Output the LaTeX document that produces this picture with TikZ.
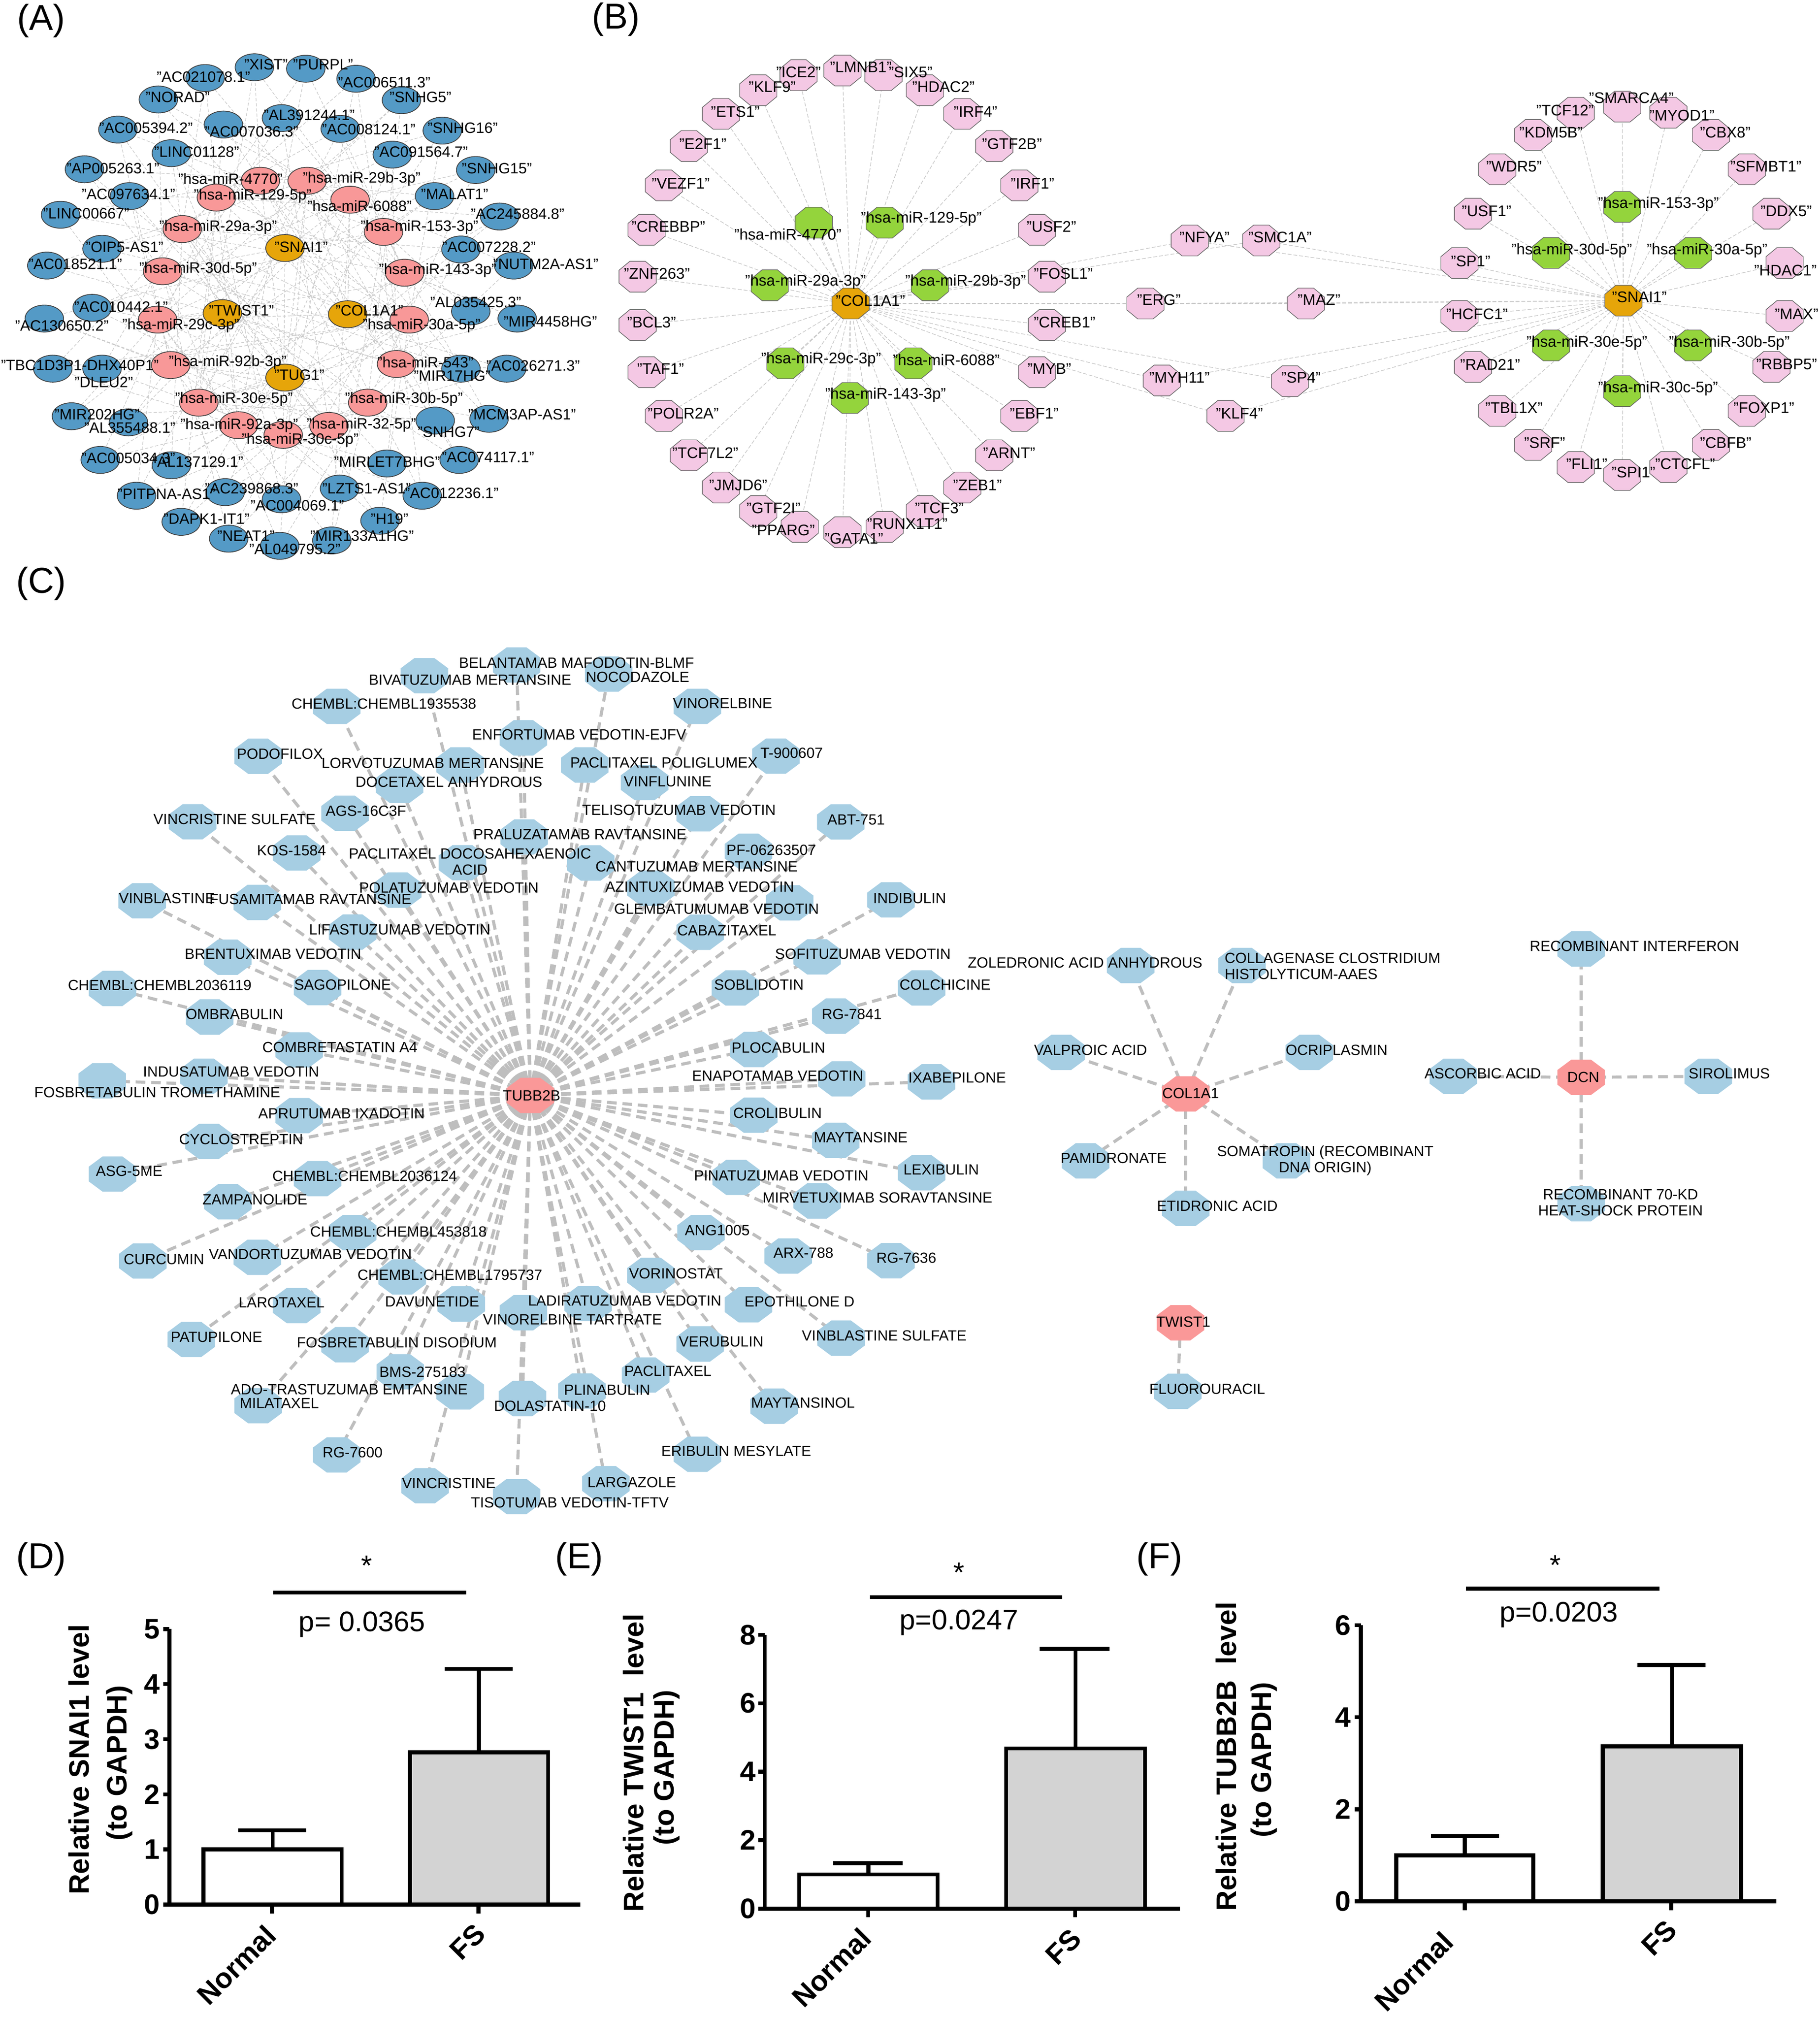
\documentclass[tikz,border=0pt]{standalone}
\usepackage{fontspec}
\setmainfont{Liberation Sans}
\usetikzlibrary{shapes.geometric,calc}
\pgfdeclarelayer{back}
\pgfdeclarelayer{bg}
\pgfdeclarelayer{mid}
\pgfsetlayers{back,bg,mid,main}
\definecolor{aBlue}{RGB}{84,154,198}
\definecolor{aPink}{RGB}{248,152,152}
\definecolor{aOrange}{RGB}{230,165,10}
\definecolor{bPink}{RGB}{244,200,228}
\definecolor{bGreen}{RGB}{148,212,60}
\definecolor{cBlue}{RGB}{166,206,227}
\definecolor{cPink}{RGB}{250,152,152}
\definecolor{edgeGrayC}{RGB}{190,190,190}
\definecolor{edgeGrayA}{RGB}{200,200,200}
\definecolor{barGray}{RGB}{211,211,211}
\newcommand\fsA{\fontsize{11.7}{13}\selectfont}
\newcommand\fsB{\fontsize{12}{14}\selectfont}
\newcommand\fsC{\fontsize{11.5}{12.5}\selectfont}
\newcommand\fsP{\fontsize{28}{30}\selectfont}
\newcommand\fsG{\fontsize{22}{24}\selectfont}
\newcommand\octdraw[2]{%
  \begin{pgfonlayer}{mid}
  \path[#2] ($(#1.east)!.414!(#1.north east)$) -- ($(#1.north)!.414!(#1.north east)$) -- ($(#1.north)!.414!(#1.north west)$) -- ($(#1.west)!.414!(#1.north west)$) -- ($(#1.west)!.414!(#1.south west)$) -- ($(#1.south)!.414!(#1.south west)$) -- ($(#1.south)!.414!(#1.south east)$) -- ($(#1.east)!.414!(#1.south east)$) -- cycle;
  \end{pgfonlayer}}
\newcommand\nodeE[5]{%
  \begin{pgfonlayer}{mid}\node[#2] (#1) at (#3) {};\end{pgfonlayer}%
  \node[lab] (#1l) at (#4) {#5};}
\newcommand\nodeO[5]{%
  \node[octbox] (#1) at (#3) {};%
  \octdraw{#1}{#2}%
  \node[lab] (#1l) at (#4) {#5};}
\tikzset{
  ellA/.style={ellipse, draw=black!75, line width=0.6pt, minimum width=30pt, minimum height=21pt, inner sep=0pt, outer sep=0pt},
  eBlue/.style={ellA, fill=aBlue},
  ePink/.style={ellA, fill=aPink},
  eOr/.style={ellA, fill=aOrange},
  octB/.style={rectangle, minimum width=29pt, minimum height=24pt, inner sep=0pt, outer sep=0pt},
  octC/.style={rectangle, minimum width=37pt, minimum height=27.5pt, inner sep=0pt, outer sep=0pt},
  oPink/.style={fill=bPink, draw=black!60, line width=0.5pt},
  oGreen/.style={fill=bGreen, draw=black!60, line width=0.5pt},
  oOr/.style={fill=aOrange, draw=black!60, line width=0.5pt},
  cB/.style={fill=cBlue},
  cP/.style={fill=cPink},
  edgeA/.style={draw=edgeGrayA, line width=0.45pt, dash pattern=on 2.5pt off 1.5pt},
  edgeB/.style={draw=edgeGrayA, line width=0.5pt, dash pattern=on 3pt off 1.5pt},
  edgeC/.style={draw=edgeGrayC, line width=2.4pt, dash pattern=on 7.5pt off 4.5pt},
  ax/.style={line width=3pt},
  barst/.style={line width=3pt, line join=miter},
  glab/.style={font=\fsG\bfseries, inner sep=0pt},
  plab/.style={font=\fsG, inner sep=0pt},
  plet/.style={font=\fsP, inner sep=0pt}
}
\begin{document}
\begin{tikzpicture}[x=1pt,y=-1pt]
\useasboundingbox (0,0) rectangle (1417,1570.6);
\begin{pgfonlayer}{back}
\fill[white] (0,0) rectangle (1417,1570.6);
\end{pgfonlayer}

% panel letters
\node[plet] (LA) at (32,16.2) {(A)};
\node[plet] (LB) at (479.6,15.3) {(B)};
\node[plet] (LC) at (32,454.5) {(C)};
\node[plet] (LD) at (32,1214) {(D)};
\node[plet] (LE) at (451,1214) {(E)};
\node[plet] (LF) at (903,1214) {(F)};

% ================= PANEL A =================
\begin{scope}[x=0.2740pt,y=-0.2787pt]
\tikzset{lab/.style={font=\fsA, inner sep=0pt}}
\nodeE{a1}{eBlue}{723,188}{756,180}{"XIST"}
\nodeE{a2}{eBlue}{869,192}{918,180}{"PURPL"}
\nodeE{a3}{eBlue}{583,218}{578,215}{"AC021078.1"}
\nodeE{a4}{eBlue}{1012,220}{1092,230}{"AC006511.3"}
\nodeE{a5}{eBlue}{450,278}{505,272}{"NORAD"}
\nodeE{a6}{eBlue}{1141,280}{1195,272}{"SNHG5"}
\nodeE{a7}{eBlue}{800,330}{879,322}{"AL391244.1"}
\nodeE{a8}{eBlue}{335,362}{415,358}{"AC005394.2"}
\nodeE{a9}{eBlue}{635,348}{715,368}{"AC007036.3"}
\nodeE{a10}{eBlue}{967,360}{1048,362}{"AC008124.1"}
\nodeE{a11}{eBlue}{1257,365}{1315,358}{"SNHG16"}
\nodeE{a12}{eBlue}{487,428}{559,424}{"LINC01128"}
\nodeE{a13}{eBlue}{1115,432}{1197,424}{"AC091564.7"}
\nodeE{a14}{eBlue}{240,473}{321,470}{"AP005263.1"}
\nodeE{a15}{eBlue}{1352,475}{1412,470}{"SNHG15"}
\nodeE{a16}{eBlue}{368,548}{365,543}{"AC097634.1"}
\nodeE{a17}{eBlue}{1235,548}{1292,543}{"MALAT1"}
\nodeE{a18}{eBlue}{172,600}{245,597}{"LINC00667"}
\nodeE{a19}{eBlue}{1420,605}{1471,598}{"AC245884.8"}
\nodeE{a20}{eBlue}{290,695}{354,690}{"OIP5-AS1"}
\nodeE{a21}{eBlue}{1310,697}{1390,690}{"AC007228.2"}
\nodeE{a22}{eBlue}{133,742}{214,738}{"AC018521.1"}
\nodeE{a23}{eBlue}{1460,742}{1551,738}{"NUTM2A-AS1"}
\nodeE{a24}{eBlue}{262,860}{344,857}{"AC010442.1"}
\nodeE{a25}{eBlue}{126,890}{176,910}{"AC130650.2"}
\nodeE{a26}{eBlue}{1338,870}{1352,845}{"AL035425.3"}
\nodeE{a27}{eBlue}{1470,890}{1564,898}{"MIR4458HG"}
\nodeE{a28}{eBlue}{150,1030}{227,1020}{"TBC1D3P1-DHX40P1"}
\nodeE{a29}{eBlue}{290,1030}{295,1068}{"DLEU2"}
\nodeE{a30}{eBlue}{1440,1030}{1515,1022}{"AC026271.3"}
\nodeE{a31}{eBlue}{1310,1030}{1285,1050}{"MIR17HG"}
\nodeE{a32}{eBlue}{203,1163}{276,1158}{"MIR202HG"}
\nodeE{a33}{eBlue}{365,1180}{369,1195}{"AL355488.1"}
\nodeE{a34}{eBlue}{1390,1170}{1484,1158}{"MCM3AP-AS1"}
\nodeE{a35}{eBlue}{1237,1175}{1275,1207}{"SNHG7"}
\nodeE{a36}{eBlue}{285,1285}{365,1280}{"AC005034.3"}
\nodeE{a37}{eBlue}{487,1300}{562,1290}{"AL137129.1"}
\nodeE{a38}{eBlue}{1100,1295}{1100,1290}{"MIRLET7BHG"}
\nodeE{a39}{eBlue}{1305,1285}{1387,1278}{"AC074117.1"}
\nodeE{a40}{eBlue}{388,1385}{473,1380}{"PITPNA-AS1"}
\nodeE{a41}{eBlue}{640,1375}{715,1365}{"AC239868.3"}
\nodeE{a42}{eBlue}{965,1365}{1042,1365}{"LZTS1-AS1"}
\nodeE{a43}{eBlue}{1200,1385}{1284,1378}{"AC012236.1"}
\nodeE{a44}{eBlue}{800,1395}{845,1413}{"AC004069.1"}
\nodeE{a45}{eBlue}{515,1458}{587,1450}{"DAPK1-IT1"}
\nodeE{a46}{eBlue}{1080,1455}{1107,1450}{"H19"}
\nodeE{a47}{eBlue}{650,1505}{699,1497}{"NEAT1"}
\nodeE{a48}{eBlue}{795,1525}{838,1535}{"AL049795.2"}
\nodeE{a49}{eBlue}{943,1510}{1029,1497}{"MIR133A1HG"}
\nodeE{m1}{ePink}{740,505}{655,500}{"hsa-miR-4770"}
\nodeE{m2}{ePink}{873,505}{1028,500}{"hsa-miR-29b-3p"}
\nodeE{m3}{ePink}{615,552}{718,548}{"hsa-miR-129-5p"}
\nodeE{m4}{ePink}{995,558}{1022,575}{"hsa-miR-6088"}
\nodeE{m5}{ePink}{518,640}{620,635}{"hsa-miR-29a-3p"}
\nodeE{m6}{ePink}{1090,648}{1192,635}{"hsa-miR-153-3p"}
\nodeE{m7}{ePink}{462,758}{563,752}{"hsa-miR-30d-5p"}
\nodeE{m8}{ePink}{1150,762}{1244,755}{"hsa-miR-143-3p"}
\nodeE{m9}{ePink}{448,893}{514,910}{"hsa-miR-29c-3p"}
\nodeE{m10}{ePink}{1163,893}{1198,910}{"hsa-miR-30a-5p"}
\nodeE{m11}{ePink}{485,1020}{647,1012}{"hsa-miR-92b-3p"}
\nodeE{m12}{ePink}{1127,1017}{1209,1012}{"hsa-miR-543"}
\nodeE{m13}{ePink}{565,1125}{665,1115}{"hsa-miR-30e-5p"}
\nodeE{m14}{ePink}{1045,1125}{1148,1115}{"hsa-miR-30b-5p"}
\nodeE{m15}{ePink}{678,1188}{680,1188}{"hsa-miR-92a-3p"}
\nodeE{m16}{ePink}{935,1190}{1027,1187}{"hsa-miR-32-5p"}
\nodeE{m17}{ePink}{805,1215}{853,1230}{"hsa-miR-30c-5p"}
\nodeE{g1}{eOr}{810,693}{856,690}{"SNAI1"}
\nodeE{g2}{eOr}{632,875}{686,868}{"TWIST1"}
\nodeE{g3}{eOr}{988,878}{1050,868}{"COL1A1"}
\nodeE{g4}{eOr}{810,1055}{851,1048}{"TUG1"}
\end{scope}

% ================= PANEL B (left) =================
\begin{scope}[shift={(447.6,0)},x=0.3197pt,y=-0.2787pt]
\tikzset{lab/.style={font=\fsB, inner sep=0pt}, octbox/.style={octB}}
\nodeO{bICE2}{oPink}{545,210}{545,202}{"ICE2"}
\nodeO{bLMNB1}{oPink}{652,197}{697,188}{"LMNB1"}
\nodeO{bSIX5}{oPink}{752,210}{818,202}{"SIX5"}
\nodeO{bKLF9}{oPink}{447,252}{481,243}{"KLF9"}
\nodeO{bHDAC2}{oPink}{853,252}{898,243}{"HDAC2"}
\nodeO{bETS1}{oPink}{356,318}{391,312}{"ETS1"}
\nodeO{bIRF4}{oPink}{944,318}{976,312}{"IRF4"}
\nodeO{bE2F1}{oPink}{278,408}{312,402}{"E2F1"}
\nodeO{bGTF2B}{oPink}{1022,408}{1065,402}{"GTF2B"}
\nodeO{bVEZF1}{oPink}{217,518}{258,512}{"VEZF1"}
\nodeO{bIRF1}{oPink}{1083,518}{1115,512}{"IRF1"}
\nodeO{bCREBBP}{oPink}{175,642}{228,633}{"CREBBP"}
\nodeO{bUSF2}{oPink}{1126,642}{1161,633}{"USF2"}
\nodeO{bZNF263}{oPink}{153,773}{200,765}{"ZNF263"}
\nodeO{bFOSL1}{oPink}{1150,773}{1190,765}{"FOSL1"}
\nodeO{bBCL3}{oPink}{153,908}{187,900}{"BCL3"}
\nodeO{bCREB1}{oPink}{1150,908}{1193,900}{"CREB1"}
\nodeO{bTAF1}{oPink}{175,1040}{209,1030}{"TAF1"}
\nodeO{bMYB}{oPink}{1126,1040}{1156,1030}{"MYB"}
\nodeO{bPOLR2A}{oPink}{217,1162}{264,1155}{"POLR2A"}
\nodeO{bEBF1}{oPink}{1083,1162}{1119,1155}{"EBF1"}
\nodeO{bTCF7L2}{oPink}{278,1272}{318,1265}{"TCF7L2"}
\nodeO{bARNT}{oPink}{1022,1272}{1058,1265}{"ARNT"}
\nodeO{bJMJD6}{oPink}{356,1362}{398,1355}{"JMJD6"}
\nodeO{bZEB1}{oPink}{944,1362}{981,1355}{"ZEB1"}
\nodeO{bGTF2I}{oPink}{447,1428}{484,1420}{"GTF2I"}
\nodeO{bTCF3}{oPink}{853,1428}{888,1420}{"TCF3"}
\nodeO{bPPARG}{oPink}{548,1472}{508,1482}{"PPARG"}
\nodeO{bRUNX1T1}{oPink}{755,1472}{810,1463}{"RUNX1T1"}
\nodeO{bGATA1}{oPink}{652,1487}{680,1505}{"GATA1"}
\nodeO{bm4770}{oGreen}{582,622}{519,655}{"hsa-miR-4770"}
\nodeO{bm129}{oGreen}{755,622}{844,612}{"hsa-miR-129-5p"}
\nodeO{bm29a}{oGreen}{475,797}{562,788}{"hsa-miR-29a-3p"}
\nodeO{bm29b}{oGreen}{865,797}{952,788}{"hsa-miR-29b-3p"}
\nodeO{bm29c}{oGreen}{513,1015}{600,1005}{"hsa-miR-29c-3p"}
\nodeO{bm6088}{oGreen}{825,1015}{905,1005}{"hsa-miR-6088"}
\nodeO{bm143}{oGreen}{670,1112}{757,1103}{"hsa-miR-143-3p"}
\nodeO{bCOL}{oOr}{672,848}{720,840}{"COL1A1"}
\nodeO{bNFYA}{oPink}{1498,672}{1534,663}{"NFYA"}
\nodeO{bERG}{oPink}{1390,848}{1423,838}{"ERG"}
\nodeO{bMYH11}{oPink}{1430,1063}{1473,1055}{"MYH11"}
\end{scope}

% ================= PANEL B (right) =================
\begin{scope}[shift={(931.1,0)},x=0.3099pt,y=-0.2787pt]
\tikzset{lab/.style={font=\fsB, inner sep=0pt}, octbox/.style={octB}}
\nodeO{bSMC1A}{oPink}{165,672}{212,663}{"SMC1A"}
\nodeO{bMAZ}{oPink}{277,848}{310,838}{"MAZ"}
\nodeO{bSP4}{oPink}{237,1065}{265,1055}{"SP4"}
\nodeO{bKLF4}{oPink}{75,1162}{110,1155}{"KLF4"}
\nodeO{bSMARCA4}{oPink}{1072,298}{1095,273}{"SMARCA4"}
\nodeO{bTCF12}{oPink}{955,315}{928,308}{"TCF12"}
\nodeO{bMYOD1}{oPink}{1188,315}{1222,322}{"MYOD1"}
\nodeO{bKDM5B}{oPink}{848,377}{893,370}{"KDM5B"}
\nodeO{bCBX8}{oPink}{1295,377}{1331,370}{"CBX8"}
\nodeO{bWDR5}{oPink}{758,473}{800,465}{"WDR5"}
\nodeO{bSFMBT1}{oPink}{1385,473}{1433,465}{"SFMBT1"}
\nodeO{bUSF1}{oPink}{697,597}{731,590}{"USF1"}
\nodeO{bDDX5}{oPink}{1447,597}{1484,590}{"DDX5"}
\nodeO{bSP1}{oPink}{663,735}{691,730}{"SP1"}
\nodeO{bHDAC1}{oPink}{1480,735}{1482,755}{"HDAC1"}
\nodeO{bHCFC1}{oPink}{663,883}{707,877}{"HCFC1"}
\nodeO{bMAX}{oPink}{1480,883}{1510,877}{"MAX"}
\nodeO{bRAD21}{oPink}{697,1025}{740,1018}{"RAD21"}
\nodeO{bRBBP5}{oPink}{1447,1025}{1485,1018}{"RBBP5"}
\nodeO{bTBL1X}{oPink}{758,1148}{800,1140}{"TBL1X"}
\nodeO{bFOXP1}{oPink}{1385,1148}{1428,1140}{"FOXP1"}
\nodeO{bSRF}{oPink}{848,1243}{877,1237}{"SRF"}
\nodeO{bCBFB}{oPink}{1295,1243}{1332,1237}{"CBFB"}
\nodeO{bFLI1}{oPink}{955,1305}{983,1297}{"FLI1"}
\nodeO{bSPI1}{oPink}{1072,1327}{1100,1320}{"SPI1"}
\nodeO{bCTCFL}{oPink}{1188,1305}{1230,1297}{"CTCFL"}
\nodeO{bm153}{oGreen}{1072,578}{1163,570}{"hsa-miR-153-3p"}
\nodeO{bm30d}{oGreen}{893,707}{945,700}{"hsa-miR-30d-5p"}
\nodeO{bm30a}{oGreen}{1250,707}{1285,700}{"hsa-miR-30a-5p"}
\nodeO{bm30e}{oGreen}{893,965}{983,958}{"hsa-miR-30e-5p"}
\nodeO{bm30b}{oGreen}{1250,965}{1341,958}{"hsa-miR-30b-5p"}
\nodeO{bm30c}{oGreen}{1072,1093}{1162,1085}{"hsa-miR-30c-5p"}
\nodeO{bSNAI}{oOr}{1075,840}{1115,830}{"SNAI1"}
\end{scope}

% ================= PANEL C =================
\begin{scope}
\tikzset{lab/.style={font=\fsC, inner sep=0pt, align=center}, octbox/.style={octC}}
\nodeO{cTUBB}{cP}{413,853}{414,853}{TUBB2B}
\nodeO{c1}{cB}{402.3,517.8}{449,516}{BELANTAMAB MAFODOTIN-BLMF}
\nodeO{c2}{cB}{330.5,526.1}{366,529.3}{BIVATUZUMAB MERTANSINE}
\nodeO{c3}{cB}{474,524.9}{496.5,527.2}{NOCODAZOLE}
\nodeO{c4}{cB}{262.2,550}{299,547.9}{CHEMBL:CHEMBL1935538}
\nodeO{c5}{cB}{543.1,550}{562.7,547.7}{VINORELBINE}
\nodeO{c6}{cB}{407.6,574.6}{451,572}{ENFORTUMAB VEDOTIN-EJFV}
\nodeO{c7}{cB}{201,588.9}{218,586.9}{PODOFILOX}
\nodeO{c8}{cB}{358.4,595.7}{337,594.4}{LORVOTUZUMAB MERTANSINE}
\nodeO{c9}{cB}{455.4,595.7}{517,594}{PACLITAXEL POLIGLUMEX}
\nodeO{c10}{cB}{604.2,588.8}{616.5,586.5}{T-900607}
\nodeO{c11}{cB}{311.2,611.5}{349.6,609}{DOCETAXEL ANHYDROUS}
\nodeO{c12}{cB}{502,609.4}{520,608.5}{VINFLUNINE}
\nodeO{c13}{cB}{268.7,633.3}{285,631.6}{AGS-16C3F}
\nodeO{c14}{cB}{545.3,633.6}{528.7,630.9}{TELISOTUZUMAB VEDOTIN}
\nodeO{c15}{cB}{150,639.9}{182.6,637.9}{VINCRISTINE SULFATE}
\nodeO{c16}{cB}{654.7,640}{666.7,638.2}{ABT-751}
\nodeO{c17}{cB}{408.2,651.7}{451.6,649.6}{PRALUZATAMAB RAVTANSINE}
\nodeO{c18}{cB}{231,664.2}{227,662.2}{KOS-1584}
\nodeO{c19}{cB}{360.1,671.8}{366,671}{PACLITAXEL DOCOSAHEXAENOIC\\ACID}
\nodeO{c20}{cB}{582.9,662.8}{600.6,661.9}{PF-06263507}
\nodeO{c21}{cB}{460,672}{542.5,674.7}{CANTUZUMAB MERTANSINE}
\nodeO{c22}{cB}{309.7,693.1}{349.6,691.1}{POLATUZUMAB VEDOTIN}
\nodeO{c23}{cB}{506.9,691.6}{544.9,690.7}{AZINTUXIZUMAB VEDOTIN}
\nodeO{c24}{cB}{110.7,701.4}{130,699.4}{VINBLASTINE}
\nodeO{c25}{cB}{200.4,702.7}{241.7,700.2}{FUSAMITAMAB RAVTANSINE}
\nodeO{c26}{cB}{614.9,703}{558,707.6}{GLEMBATUMUMAB VEDOTIN}
\nodeO{c27}{cB}{693.9,700.7}{708.4,699.4}{INDIBULIN}
\nodeO{c28}{cB}{274.6,725.8}{311.3,724}{LIFASTUZUMAB VEDOTIN}
\nodeO{c29}{cB}{545.3,725.9}{566,724.5}{CABAZITAXEL}
\nodeO{c30}{cB}{636.3,745.1}{672,742.8}{SOFITUZUMAB VEDOTIN}
\nodeO{c31}{cB}{177.3,745.4}{212.6,742.9}{BRENTUXIMAB VEDOTIN}
\nodeO{c32}{cB}{87.6,769.7}{124.4,767.2}{CHEMBL:CHEMBL2036119}
\nodeO{c33}{cB}{247.3,769}{266.8,766.7}{SAGOPILONE}
\nodeO{c34}{cB}{572.7,769.3}{591,767}{SOBLIDOTIN}
\nodeO{c35}{cB}{717.7,769.3}{736,767}{COLCHICINE}
\nodeO{c36}{cB}{163.3,791.9}{182.6,789.8}{OMBRABULIN}
\nodeO{c37}{cB}{650.8,791.2}{663.3,789.8}{RG-7841}
\nodeO{c38}{cB}{233,817.5}{264.7,815.7}{COMBRETASTATIN A4}
\nodeO{c39}{cB}{587,817.2}{606.2,815.9}{PLOCABULIN}
\nodeO{c40}{cB}{158.8,838}{180,834.4}{INDUSATUMAB VEDOTIN}
\nodeO{c41}{cB}{655.5,840.1}{605.6,837.8}{ENAPOTAMAB VEDOTIN}
\nodeO{c42}{cB}{725.4,842.4}{745.4,839.2}{IXABEPILONE}
\nodeO{c43}{cB}{79.6,841.6}{122.5,850.5}{FOSBRETABULIN TROMETHAMINE}
\nodeO{c44}{cB}{233,868.7}{266,867.2}{APRUTUMAB IXADOTIN}
\nodeO{c45}{cB}{587,868.4}{605.5,866.6}{CROLIBULIN}
\nodeO{c46}{cB}{162.7,888.8}{187.8,887.1}{CYCLOSTREPTIN}
\nodeO{c47}{cB}{650.8,888}{670.3,885.8}{MAYTANSINE}
\nodeO{c48}{cB}{717.7,913.2}{733,910.9}{LEXIBULIN}
\nodeO{c49}{cB}{87.6,914.2}{100.6,911.9}{ASG-5ME}
\nodeO{c50}{cB}{247.3,917.8}{284,915.9}{CHEMBL:CHEMBL2036124}
\nodeO{c51}{cB}{573.3,916.8}{608.4,915.4}{PINATUZUMAB VEDOTIN}
\nodeO{c52}{cB}{177.5,935.8}{198.5,933.9}{ZAMPANOLIDE}
\nodeO{c53}{cB}{636.3,935.1}{683.3,932.8}{MIRVETUXIMAB SORAVTANSINE}
\nodeO{c54}{cB}{545.9,959.8}{558.6,957.9}{ANG1005}
\nodeO{c55}{cB}{274.6,959.8}{310.3,959.1}{CHEMBL:CHEMBL453818}
\nodeO{c56}{cB}{111.3,981.9}{127.7,980.7}{CURCUMIN}
\nodeO{c57}{cB}{200.4,979}{241.7,976.6}{VANDORTUZUMAB VEDOTIN}
\nodeO{c58}{cB}{613.8,978}{625.7,975.7}{ARX-788}
\nodeO{c59}{cB}{693.9,981.7}{705.8,979.4}{RG-7636}
\nodeO{c60}{cB}{313.2,994.3}{350.4,992.7}{CHEMBL:CHEMBL1795737}
\nodeO{c61}{cB}{506.9,993.1}{526.4,991.7}{VORINOSTAT}
\nodeO{c62}{cB}{231,1016.6}{219.3,1014.2}{LAROTAXEL}
\nodeO{c63}{cB}{359.2,1015.4}{336.5,1013.5}{DAVUNETIDE}
\nodeO{c64}{cB}{458,1015}{486.5,1012.8}{LADIRATUZUMAB VEDOTIN}
\nodeO{c65}{cB}{582.9,1016}{622.6,1013.7}{EPOTHILONE D}
\nodeO{c66}{cB}{407.6,1022.2}{445.8,1027.4}{VINORELBINE TARTRATE}
\nodeO{c67}{cB}{149,1043}{168.6,1041.3}{PATUPILONE}
\nodeO{c68}{cB}{268.7,1047.1}{309,1045.4}{FOSBRETABULIN DISODIUM}
\nodeO{c69}{cB}{655,1042}{688.6,1040.2}{VINBLASTINE SULFATE}
\nodeO{c70}{cB}{545.3,1046.5}{561.6,1044.7}{VERUBULIN}
\nodeO{c71}{cB}{311.7,1068.2}{329,1068.2}{BMS-275183}
\nodeO{c72}{cB}{502.8,1070.7}{520.1,1067.6}{PACLITAXEL}
\nodeO{c73}{cB}{358.4,1083.8}{272,1082.1}{ADO-TRASTUZUMAB EMTANSINE}
\nodeO{c74}{cB}{453.2,1083.1}{472.8,1082.2}{PLINABULIN}
\nodeO{c75}{cB}{201,1094.6}{217.5,1092.7}{MILATAXEL}
\nodeO{c76}{cB}{406.9,1089}{428.3,1095}{DOLASTATIN-10}
\nodeO{c77}{cB}{602.9,1095}{625.3,1092.3}{MAYTANSINOL}
\nodeO{c78}{cB}{262.2,1132.9}{274.6,1131}{RG-7600}
\nodeO{c79}{cB}{543.1,1132.4}{573.3,1130.1}{ERIBULIN MESYLATE}
\nodeO{c80}{cB}{331,1156.9}{349.5,1155}{VINCRISTINE}
\nodeO{c81}{cB}{471.9,1155.3}{492,1154.4}{LARGAZOLE}
\nodeO{c82}{cB}{402.3,1165.3}{443.8,1170}{TISOTUMAB VEDOTIN-TFTV}
% COL1A1 drug cluster
\nodeO{cCOL}{cP}{923.4,851.8}{927.2,851.2}{COL1A1}
\nodeO{c83}{cB}{880.5,751.8}{845,749.5}{ZOLEDRONIC ACID ANHYDROUS}
\node[octbox] (c84) at (967.2,751.8) {};
\octdraw{c84}{cB}
\node[lab, align=left, anchor=west] (c84l) at (953.5,752.4) {COLLAGENASE CLOSTRIDIUM\\HISTOLYTICUM-AAES};
\nodeO{c85}{cB}{826.4,819.5}{849.3,817.5}{VALPROIC ACID}
\nodeO{c86}{cB}{1019.6,819.5}{1040.9,817.5}{OCRIPLASMIN}
\nodeO{c87}{cB}{845.4,903.9}{867.3,901.7}{PAMIDRONATE}
\nodeO{c88}{cB}{1001.8,903.9}{1032,903.7}{SOMATROPIN (RECOMBINANT\\DNA ORIGIN)}
\nodeO{c89}{cB}{923.4,940.9}{948,939}{ETIDRONIC ACID}
% DCN cluster
\nodeO{cDCN}{cP}{1231.3,838.9}{1233,838.9}{DCN}
\nodeO{c90}{cB}{1231.3,738.9}{1272.8,736.7}{RECOMBINANT INTERFERON}
\nodeO{c91}{cB}{1131.8,838.1}{1154.7,835.9}{ASCORBIC ACID}
\nodeO{c92}{cB}{1330.3,838.1}{1346.7,835.9}{SIROLIMUS}
\nodeO{c93}{cB}{1231.3,937.3}{1262,936.5}{RECOMBINANT 70-KD\\HEAT-SHOCK PROTEIN}
% TWIST1
\nodeO{cTW}{cP}{919.3,1030}{921.5,1029.4}{TWIST1}
\nodeO{c94}{cB}{917.2,1083.4}{940.1,1081.5}{FLUOROURACIL}
\end{scope}

% ================= EDGES =================
\begin{pgfonlayer}{bg}
% panel A
\foreach \i in {1,...,49}{
  \foreach \k in {0,1,2}{
    \pgfmathtruncatemacro\jj{mod(\i*7+\k*5,17)+1}
    \draw[edgeA] (a\i.center) -- (m\jj.center);
  }
}
\foreach \mm in {1,2,3,4,5,8,9} \draw[edgeA] (g3.center) -- (m\mm.center);
\foreach \mm in {6,7,10,13,14,17} \draw[edgeA] (g1.center) -- (m\mm.center);
\foreach \mm in {5,9,11,12,15,16} \draw[edgeA] (g2.center) -- (m\mm.center);
\foreach \mm in {1,2,5,9,11,13,15,16} \draw[edgeA] (g4.center) -- (m\mm.center);
% panel B
\foreach \n in {bICE2,bLMNB1,bSIX5,bKLF9,bHDAC2,bETS1,bIRF4,bE2F1,bGTF2B,bVEZF1,bIRF1,bCREBBP,bUSF2,bZNF263,bFOSL1,bBCL3,bCREB1,bTAF1,bMYB,bPOLR2A,bEBF1,bTCF7L2,bARNT,bJMJD6,bZEB1,bGTF2I,bTCF3,bPPARG,bRUNX1T1,bGATA1,bm4770,bm129,bm29a,bm29b,bm29c,bm6088,bm143}
  \draw[edgeB] (bCOL.center) -- (\n.center);
\foreach \n in {bNFYA,bERG,bMYH11,bSMC1A,bMAZ,bSP4,bKLF4}{
  \draw[edgeB] (bCOL.center) -- (\n.center);
  \draw[edgeB] (bSNAI.center) -- (\n.center);
}
\foreach \n in {bSMARCA4,bTCF12,bMYOD1,bKDM5B,bCBX8,bWDR5,bSFMBT1,bUSF1,bDDX5,bSP1,bHDAC1,bHCFC1,bMAX,bRAD21,bRBBP5,bTBL1X,bFOXP1,bSRF,bCBFB,bFLI1,bSPI1,bCTCFL,bm153,bm30d,bm30a,bm30e,bm30b,bm30c}
  \draw[edgeB] (bSNAI.center) -- (\n.center);
% panel C
\foreach \i in {1,...,82} \draw[edgeC] (cTUBB.center) -- (c\i.center);
\foreach \i in {83,...,89} \draw[edgeC] (cCOL.center) -- (c\i.center);
\foreach \i in {90,...,93} \draw[edgeC] (cDCN.center) -- (c\i.center);
\draw[edgeC] (cTW.center) -- (c94.center);
\end{pgfonlayer}

% ================= PANEL D =================
\draw[barst, fill=white] (158.5,1483) rectangle (266.1,1440.1);
\draw[barst, fill=barGray] (319.2,1483) rectangle (426.8,1364.5);
\draw[line width=3pt] (212.3,1440.1) -- (212.3,1425.2);
\draw[line width=3pt] (185.6,1425.2) -- (238.4,1425.2);
\draw[line width=3pt] (373,1364.5) -- (373,1299.5);
\draw[line width=3pt] (346.3,1299.5) -- (399.1,1299.5);
\draw[ax] (131.9,1268.5) -- (131.9,1483) -- (452,1483);
\foreach \yy in {0,...,5}{
  \draw[line width=3pt] (127,1483-\yy*42.9) -- (131.9,1483-\yy*42.9);
  \node[glab] (dy\yy) at (118.5,1483-\yy*42.9) {\yy};
}
\draw[line width=3pt] (211.8,1483) -- (211.8,1490);
\draw[line width=3pt] (372.6,1483) -- (372.6,1490);
\node[glab, rotate=45] (dxn) at (184,1530) {Normal};
\node[glab, rotate=45] (dxf) at (364,1512) {FS};
\node[glab, rotate=90] (dt1) at (61.4,1370) {Relative SNAI1 level};
\node[glab, rotate=90] (dt2) at (92.8,1372.7) {(to GAPDH)};
\draw[line width=3pt] (212.7,1240) -- (363.2,1240);
\node[plab] (dst) at (285.5,1219) {*};
\node[plab] (dp) at (282,1264.8) {p= 0.0365};

% ================= PANEL E =================
\draw[barst, fill=white] (622.3,1486.2) rectangle (730.2,1459.6);
\draw[barst, fill=barGray] (783.6,1486.2) rectangle (891.6,1361.5);
\draw[line width=3pt] (676.2,1459.6) -- (676.2,1450.8);
\draw[line width=3pt] (648.9,1450.8) -- (703.1,1450.8);
\draw[line width=3pt] (837.6,1361.5) -- (837.6,1283.9);
\draw[line width=3pt] (809.6,1283.9) -- (863.9,1283.9);
\draw[ax] (595.5,1273) -- (595.5,1486.2) -- (919,1486.2);
\foreach \yy in {0,2,4,6,8}{
  \draw[line width=3pt] (590.6,1486.2-\yy*26.65) -- (595.5,1486.2-\yy*26.65);
  \node[glab] (ey\yy) at (582.4,1486.2-\yy*26.65) {\yy};
}
\draw[line width=3pt] (676,1486.2) -- (676,1493);
\draw[line width=3pt] (837.3,1486.2) -- (837.3,1493);
\node[glab, rotate=45] (exn) at (647.5,1532) {Normal};
\node[glab, rotate=45] (exf) at (828,1516) {FS};
\node[glab, rotate=90] (et1) at (493.3,1372.7) {Relative TWIST1\ \ level};
\node[glab, rotate=90] (et2) at (519,1376.4) {(to GAPDH)};
\draw[line width=3pt] (677.4,1243.7) -- (827.3,1243.7);
\node[plab] (est) at (746.8,1224.5) {*};
\node[plab] (ep) at (746.7,1263.5) {p=0.0247};

% ================= PANEL F =================
\draw[barst, fill=white] (1087.4,1480.5) rectangle (1194,1444.7);
\draw[barst, fill=barGray] (1248.1,1480.5) rectangle (1355.9,1359.8);
\draw[line width=3pt] (1140.7,1444.7) -- (1140.7,1429.7);
\draw[line width=3pt] (1114.2,1429.7) -- (1167.2,1429.7);
\draw[line width=3pt] (1302,1359.8) -- (1302,1296.5);
\draw[line width=3pt] (1275,1296.5) -- (1328.3,1296.5);
\draw[ax] (1059.8,1265.5) -- (1059.8,1480.5) -- (1383.4,1480.5);
\foreach \yy in {0,2,4,6}{
  \draw[line width=3pt] (1054.9,1480.5-\yy*35.83) -- (1059.8,1480.5-\yy*35.83);
  \node[glab] (fy\yy) at (1046,1480.5-\yy*35.83) {\yy};
}
\draw[line width=3pt] (1140.7,1480.5) -- (1140.7,1487.5);
\draw[line width=3pt] (1301.5,1480.5) -- (1301.5,1487.5);
\node[glab, rotate=45] (fxn) at (1101,1535) {Normal};
\node[glab, rotate=45] (fxf) at (1292,1509) {FS};
\node[glab, rotate=90] (ft1) at (954.8,1367.7) {Relative TUBB2B\ \ level};
\node[glab, rotate=90] (ft2) at (984.1,1370.2) {(to GAPDH)};
\draw[line width=3pt] (1141.7,1237) -- (1292.2,1237);
\node[plab] (fst) at (1211.3,1218.7) {*};
\node[plab] (fp) at (1214,1257.3) {p=0.0203};
\end{tikzpicture}
\end{document}
